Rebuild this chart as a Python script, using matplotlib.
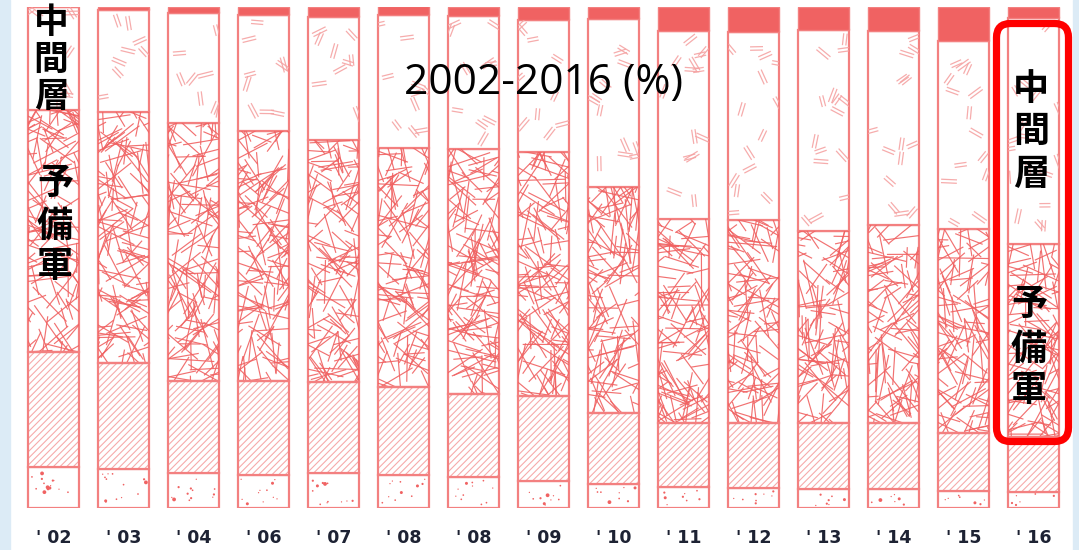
import numpy as np
import matplotlib
matplotlib.use("Agg")
import matplotlib.pyplot as plt
from matplotlib.collections import LineCollection
from matplotlib.patches import Rectangle, FancyBboxPatch
from matplotlib.transforms import IdentityTransform

# ---------------- data (percent of each layer, bottom -> top) ----------------
years = ["'02", "'03", "'04", "'06", "'07", "'08", "'08", "'09", "'10",
         "'11", "'12", "'13", "'14", "'15", "'16"]
dotted_layer = [8.2, 7.8, 7.0, 6.6, 7.0, 6.6, 6.1, 5.4, 4.8, 4.1, 4.0, 3.7, 3.7, 3.4, 3.2]
striped_layer = [22.9, 21.2, 18.4, 18.7, 18.1, 17.6, 16.6, 16.9, 14.1, 12.8, 13.0, 13.3, 13.2, 11.6, 11.0]
reserve_layer = [48.2, 50.0, 51.4, 49.9, 48.2, 47.6, 48.9, 48.7, 45.1, 40.7, 40.4, 38.3, 39.5, 40.6, 38.4]
middle_layer = [20.6, 20.3, 21.9, 23.1, 24.6, 26.5, 26.5, 26.3, 33.5, 37.5, 37.5, 40.0, 38.7, 37.6, 45.1]
top_layer = [0.1, 0.7, 1.2, 1.7, 2.0, 1.7, 1.9, 2.7, 2.5, 4.9, 5.0, 4.7, 4.9, 6.8, 2.3]
title = "2002-2016 (%)"

# ---------------- figure ----------------
W, H = 1079, 550
plt.rcParams['hatch.linewidth'] = 0.8
fig = plt.figure(figsize=(W / 100, H / 100), dpi=100, facecolor='white')
fig.add_artist(Rectangle((0, 0), 10 / W, 1, transform=fig.transFigure,
                         color='#DCEBF6', zorder=-10))
fig.add_artist(Rectangle((1073 / W, 0), 6 / W, 1, transform=fig.transFigure,
                         color='#DCEBF6', zorder=-10))

ax = fig.add_axes([18.5 / W, 42 / H, 1050 / W, 501.5 / H])
ax.set_xlim(-0.5, len(years) - 0.5)
ax.set_ylim(0, 100)
ax.patch.set_alpha(0)
for s in ax.spines.values():
    s.set_visible(False)
ax.set_yticks([])
x = np.arange(len(years))
ax.set_xticks(x)
ax.set_xticklabels([y.replace("'", "' ") for y in years], fontsize=12.5,
                   fontweight='bold', color='#1d2233', family='DejaVu Sans')
ax.tick_params(axis='x', length=0, pad=15)

SX = 1050 / 15.0          # px per x unit
SY = 501.5 / 100.0        # px per y unit
bw = 51 / SX

RED = '#F06262'
EDGE = '#F38080'
rng = np.random.default_rng(11)

b1 = np.array(dotted_layer)
b2 = b1 + np.array(striped_layer)
b3 = b2 + np.array(reserve_layer)
b4 = b3 + np.array(middle_layer)

dots = ax.bar(x, dotted_layer, width=bw, bottom=0, color='white', edgecolor=EDGE, linewidth=1.6, zorder=2)
stripes = ax.bar(x, striped_layer, width=bw, bottom=b1, color='white', edgecolor='#F6ABAB',
                 linewidth=0, hatch='/////', zorder=2)
ax.bar(x, striped_layer, width=bw, bottom=b1, color='none', edgecolor=EDGE, linewidth=1.6, zorder=3)
reserve = ax.bar(x, reserve_layer, width=bw, bottom=b2, color='white', edgecolor=EDGE, linewidth=1.6, zorder=2)
middle = ax.bar(x, middle_layer, width=bw, bottom=b3, color='white', edgecolor=EDGE, linewidth=1.6, zorder=2)
top = ax.bar(x, top_layer, width=bw, bottom=b4, color=RED, edgecolor=EDGE, linewidth=1.0, zorder=2)


def rect_px(p):
    return p.get_x(), p.get_y(), p.get_width(), p.get_height()


# texture: criss-cross lines (reserve)
for p in reserve.patches:
    x0, y0, w, h = rect_px(p)
    wp, hp = w * SX, h * SY
    n = int(wp * hp * 0.42 / 36) + 3
    segs = []
    for _ in range(n):
        cx = x0 + rng.uniform(-0.15, 1.15) * w
        cy = y0 + rng.uniform(-0.03, 1.03) * h
        L = rng.uniform(20, 52)
        a = rng.uniform(0, np.pi)
        dx, dy = np.cos(a) * L / 2 / SX, np.sin(a) * L / 2 / SY
        segs.append([(cx - dx, cy - dy), (cx + dx, cy + dy)])
    lc = LineCollection(segs, colors=RED, linewidths=0.85, alpha=0.9, zorder=2.5)
    ax.add_collection(lc)
    lc.set_clip_path(p)

# texture: pairs of short dashes (middle layer)
for p in middle.patches:
    x0, y0, w, h = rect_px(p)
    wp, hp = w * SX, h * SY
    n = int(wp * hp / 720) + 1
    segs = []
    for _ in range(n):
        cx = x0 + rng.uniform(0.0, 1.0) * w
        cy = y0 + rng.uniform(0.03, 0.97) * h
        L = rng.uniform(11, 16)
        a = rng.uniform(0, np.pi)
        ux, uy = np.cos(a), np.sin(a)
        nx, ny = -uy, ux
        for off in (-1.7, 1.7):
            px, py = nx * off, ny * off
            segs.append([(cx + (px - ux * L / 2) / SX, cy + (py - uy * L / 2) / SY),
                         (cx + (px + ux * L / 2) / SX, cy + (py + uy * L / 2) / SY)])
    lc = LineCollection(segs, colors='#F5A3A3', linewidths=0.9, alpha=0.9, zorder=2.5)
    ax.add_collection(lc)
    lc.set_clip_path(p)

# texture: scattered dots (bottom layer)
for p in dots.patches:
    x0, y0, w, h = rect_px(p)
    wp, hp = w * SX, h * SY
    n = int(wp * hp / 170) + 2
    xs = x0 + rng.uniform(0.06, 0.94, n) * w
    ys = y0 + rng.uniform(0.1, 0.9, n) * h
    d = rng.choice([1.3, 1.7, 2.2, 3.0, 3.8], n, p=[0.3, 0.3, 0.2, 0.12, 0.08])
    sc = ax.scatter(xs, ys, s=(d / 1.389) ** 2, color=RED, linewidths=0, zorder=2.5)
    sc.set_clip_path(p)

# title
fig.text(544 / W, 1 - 83 / H, title, fontsize=30.5, family='Open Sans',
         ha='center', va='center', color='black', zorder=10)

# vertical CJK labels
cjk = ['Noto Sans CJK JP', 'DejaVu Sans']


def vtext(chars, xc, ycs, size=26):
    for ch, yc in zip(chars, ycs):
        fig.text(xc / W, 1 - yc / H, ch, fontsize=size, family=cjk, ha='center',
                 va='center', color='black', fontweight='bold', zorder=10)


vtext("中間層", 51, [22, 59, 96], size=25)
vtext("予備軍", 55, [184, 226, 266])
vtext("中間層", 1031, [90, 131, 175])
vtext("予備軍", 1029, [304, 349, 391])

box = FancyBboxPatch((996.5, H - 441.5), 1068.5 - 996.5, 441.5 - 23.5,
                     boxstyle='round,pad=0,rounding_size=14', transform=IdentityTransform(),
                     facecolor='none', edgecolor='#FF0000', linewidth=5.2, zorder=11)
fig.add_artist(box)

fig.savefig('out.png', dpi=100, facecolor='white')
